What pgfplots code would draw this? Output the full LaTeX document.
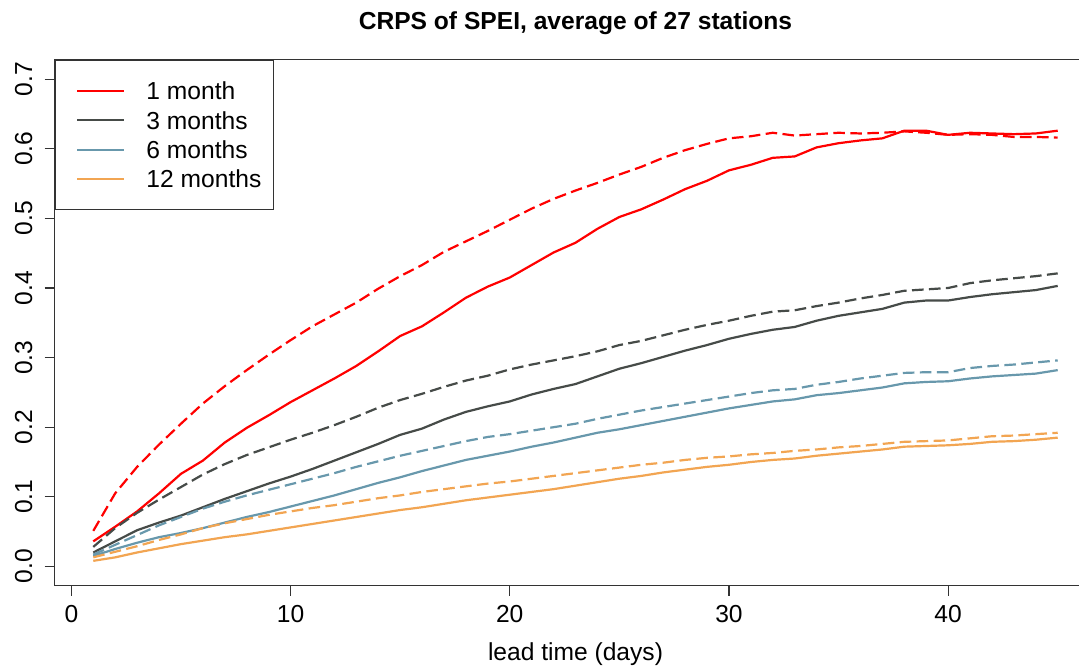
\documentclass[border=0pt]{standalone}
\usepackage{fontspec}
\setmainfont{Liberation Sans}
\usepackage{pgfplots}
\usepackage{pgfplotstable}
\pgfplotsset{compat=1.18}

\definecolor{c1}{RGB}{255,0,0}
\definecolor{c3}{RGB}{70,75,72}
\definecolor{c6}{RGB}{104,152,172}
\definecolor{c12}{RGB}{242,165,82}

% mean CRPS per lead day; s = solid, d = dashed
\pgfplotstableread{
day r1s r1d r3s r3d r6s r6d r12s r12d
1 0.036 0.051 0.020 0.028 0.015 0.017 0.008 0.013
2 0.057 0.105 0.036 0.055 0.025 0.031 0.013 0.021
3 0.079 0.143 0.052 0.077 0.034 0.045 0.020 0.029
4 0.105 0.175 0.063 0.096 0.042 0.059 0.026 0.038
5 0.133 0.205 0.073 0.114 0.048 0.071 0.032 0.046
6 0.152 0.234 0.085 0.132 0.055 0.083 0.037 0.055
7 0.178 0.259 0.097 0.147 0.063 0.093 0.042 0.062
8 0.199 0.282 0.108 0.160 0.071 0.102 0.046 0.068
9 0.217 0.304 0.119 0.171 0.078 0.110 0.051 0.074
10 0.236 0.325 0.129 0.182 0.086 0.118 0.056 0.079
11 0.253 0.345 0.140 0.192 0.094 0.126 0.061 0.084
12 0.270 0.362 0.152 0.203 0.102 0.134 0.066 0.088
13 0.288 0.379 0.164 0.215 0.111 0.143 0.071 0.093
14 0.309 0.399 0.176 0.228 0.120 0.151 0.076 0.098
15 0.331 0.417 0.189 0.239 0.128 0.159 0.081 0.102
16 0.345 0.433 0.198 0.248 0.137 0.166 0.085 0.107
17 0.365 0.452 0.211 0.258 0.145 0.173 0.090 0.111
18 0.386 0.467 0.222 0.267 0.153 0.180 0.095 0.115
19 0.402 0.482 0.230 0.274 0.159 0.186 0.099 0.119
20 0.415 0.498 0.237 0.283 0.165 0.190 0.103 0.122
21 0.433 0.514 0.247 0.290 0.172 0.195 0.107 0.126
22 0.451 0.528 0.255 0.296 0.178 0.200 0.111 0.130
23 0.465 0.540 0.262 0.302 0.185 0.205 0.116 0.134
24 0.485 0.551 0.273 0.309 0.192 0.212 0.121 0.138
25 0.502 0.563 0.284 0.318 0.197 0.218 0.126 0.142
26 0.513 0.574 0.292 0.324 0.203 0.224 0.130 0.146
27 0.527 0.587 0.301 0.332 0.209 0.229 0.135 0.149
28 0.542 0.598 0.310 0.340 0.215 0.234 0.139 0.153
29 0.554 0.607 0.318 0.347 0.221 0.239 0.143 0.156
30 0.569 0.615 0.327 0.353 0.227 0.244 0.146 0.158
31 0.577 0.618 0.334 0.360 0.232 0.249 0.150 0.161
32 0.587 0.623 0.340 0.366 0.237 0.253 0.153 0.163
33 0.589 0.619 0.344 0.368 0.240 0.255 0.155 0.166
34 0.602 0.621 0.353 0.374 0.246 0.261 0.159 0.168
35 0.608 0.623 0.360 0.379 0.249 0.265 0.162 0.171
36 0.612 0.622 0.365 0.385 0.253 0.270 0.165 0.173
37 0.615 0.623 0.370 0.390 0.257 0.274 0.168 0.176
38 0.626 0.625 0.379 0.396 0.263 0.278 0.172 0.179
39 0.626 0.623 0.382 0.398 0.265 0.279 0.173 0.180
40 0.620 0.620 0.382 0.400 0.266 0.279 0.174 0.181
41 0.623 0.621 0.387 0.407 0.270 0.285 0.176 0.184
42 0.622 0.620 0.391 0.411 0.273 0.288 0.179 0.187
43 0.621 0.617 0.394 0.414 0.275 0.290 0.180 0.188
44 0.622 0.617 0.397 0.417 0.277 0.293 0.182 0.190
45 0.626 0.616 0.403 0.421 0.282 0.296 0.185 0.192
}\crps

\newcommand{\lbl}{\fontsize{12.3}{14.5}\selectfont}

\begin{document}
\begin{tikzpicture}
\begin{axis}[
  scale only axis,
  width=520.8pt, height=263.1pt,
  xmin=-0.76, xmax=46.76,
  ymin=-0.028, ymax=0.728,
  axis line style={black!80, line width=0.6pt},
  every tick/.style={black!80, line width=0.6pt},
  tick align=outside,
  major tick length=5pt,
  xtick pos=left, ytick pos=left,
  xtick={0,10,20,30,40},
  ytick={0,0.1,0.2,0.3,0.4,0.5,0.6,0.7},
  yticklabels={0.0,0.1,0.2,0.3,0.4,0.5,0.6,0.7},
  /pgf/number format/assume math mode=true,
  ticklabel style={font=\lbl, inner sep=0pt},
  xticklabel style={anchor=north, yshift=-4.35pt},
  yticklabel style={xshift=-6.25pt, rotate=90, anchor=base},
  xlabel={lead time (days)},
  xlabel style={font=\lbl, at={(axis description cs:0.5,0)}, anchor=center, yshift=-34.35pt},
  title={\bfseries CRPS of SPEI, average of 27 stations},
  title style={font=\lbl, at={(axis description cs:0.5,1)}, anchor=base, yshift=9pt},
  legend cell align=left,
  legend image code/.code={\path (0pt,0pt); \draw[#1] (4.5pt,0pt) -- (28pt,0pt);},
  legend style={at={(0,1)}, anchor=north west, draw=black!80, line width=0.6pt,
    font=\lbl, inner xsep=6pt, inner ysep=11pt, row sep=5.85pt, column sep=10.5pt,
    nodes={inner sep=0pt, text height=8.8pt, text depth=0pt}},
  every axis plot/.append style={line width=1.1pt, line join=round},
  dashed line/.style={dash pattern=on 5.8pt off 2.7pt},
]
\addplot[c1] table[x=day, y=r1s] {\crps};
\addlegendentry{1 month}
\addplot[c3] table[x=day, y=r3s] {\crps};
\addlegendentry{3 months}
\addplot[c6] table[x=day, y=r6s] {\crps};
\addlegendentry{6 months}
\addplot[c12] table[x=day, y=r12s] {\crps};
\addlegendentry{12 months}
\addplot[c1, dashed line, forget plot] table[x=day, y=r1d] {\crps};
\addplot[c3, dashed line, forget plot] table[x=day, y=r3d] {\crps};
\addplot[c6, dashed line, forget plot] table[x=day, y=r6d] {\crps};
\addplot[c12, dashed line, forget plot] table[x=day, y=r12d] {\crps};
\end{axis}
\pgfresetboundingbox
\useasboundingbox ([xshift=-27.35pt, yshift=-41.85pt]current axis.south west)
  rectangle ([xshift=-8.65pt, yshift=29.85pt]current axis.north east);
\end{tikzpicture}
\end{document}
